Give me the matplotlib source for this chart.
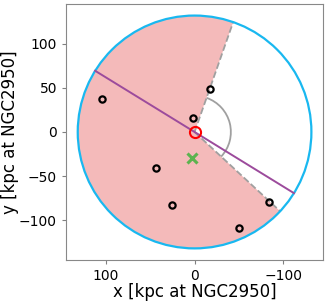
import numpy as np
import matplotlib
matplotlib.use('Agg')
import matplotlib.pyplot as plt
from matplotlib.patches import Wedge, Arc, Circle

# satellite positions [kpc]
sat_x = [104.9, -17.4, 2.3, 43.5, 25.8, -50.0, -84.1]
sat_y = [37.0, 48.9, 15.6, -40.9, -82.6, -108.6, -79.6]

# other markers
host = (0.0, 0.0)
centroid = (3.4, -30.0)

r_max = 132.0
edge_angles = [109.3, -137.1]   # deg, edges of the shaded wedge
axis_angle = 31.7               # deg, orientation of the fitted line
arc_radius = 41.0

fig = plt.figure(figsize=(3.27, 3.02), dpi=100)
ax = fig.add_axes([0.202, 0.139, 0.786, 0.848])

wedge = Wedge(host, r_max, edge_angles[1], edge_angles[0], facecolor='#f4baba',
              edgecolor='none', zorder=1)
ax.add_patch(wedge)
ax.add_patch(Circle(host, r_max, fill=False, color='#19b8f0', lw=1.6, zorder=3))
ax.add_patch(Arc(host, 2 * arc_radius, 2 * arc_radius, theta1=edge_angles[0],
                 theta2=360 + edge_angles[1], color='#a0a0a0', lw=1.3, zorder=2))

for a in edge_angles:
    t = np.radians(a)
    ax.plot([0, r_max * np.cos(t)], [0, r_max * np.sin(t)], color='#a0a0a0',
            ls='--', lw=1.3, zorder=2)

t = np.radians(axis_angle)
ax.plot([-r_max * np.cos(t), r_max * np.cos(t)],
        [-r_max * np.sin(t), r_max * np.sin(t)], color='#9c4b9c', lw=1.4, zorder=4)

ax.plot(sat_x, sat_y, 'o', mfc='none', mec='k', mew=1.6, ms=4.5, zorder=5)
ax.plot(*host, 'o', mfc='none', mec='red', mew=1.5, ms=8, zorder=5)
ax.plot(*centroid, 'x', color='#5cb34f', mew=2.2, ms=7, zorder=5)

lim = 1.1 * r_max
ax.set_xlim(lim, -lim)
ax.set_ylim(-lim, lim)
ax.set_xticks([100, 0, -100])
ax.set_yticks([100, 50, 0, -50, -100])
ax.tick_params(labelsize=10, color='#808080', length=3)
for s in ax.spines.values():
    s.set_color('#888888')
ax.set_xlabel('x [kpc at NGC2950]', fontsize=12, labelpad=0)
ax.set_ylabel('y [kpc at NGC2950]', fontsize=12, labelpad=0)

fig.savefig('out.png', dpi=100)
